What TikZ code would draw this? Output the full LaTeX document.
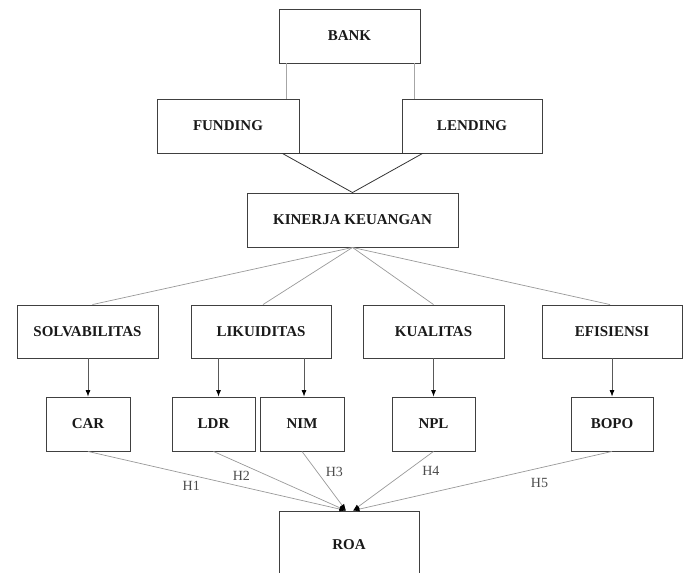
\documentclass[tikz,border=0pt]{standalone}
\usepackage{fontspec}
\setmainfont{Liberation Serif}
\usetikzlibrary{arrows.meta}
\def\varbox{\node[draw=black!75,line width=0.9pt,text=black!90,inner sep=0pt,font=\fontsize{15}{17}\selectfont\bfseries]}

\begin{document}
\begin{tikzpicture}[x=1pt,y=-1pt,
  link/.style={draw=black!40,line width=0.7pt},
  arr/.style={draw=black!65,line width=0.7pt,-{Latex[length=6.5pt,width=5pt,color=black]}},
  hyp/.style={link,-{Latex[length=6.5pt,width=5pt,color=black]}},
  hlabel/.style={text=black!70,font=\fontsize{14}{15}\selectfont}]
\useasboundingbox (0,0) rectangle (689,573);
\varbox[minimum width=141pt,minimum height=54pt] (bank) at (349.5,36) {BANK};
\varbox[minimum width=142pt,minimum height=54pt] (funding) at (228,126) {FUNDING};
\varbox[minimum width=140pt,minimum height=54pt] (lending) at (472,126) {LENDING};
\varbox[minimum width=211pt,minimum height=54pt] (kinerja) at (352.5,220) {KINERJA KEUANGAN};
\varbox[minimum width=141pt,minimum height=53pt] (solv) at (87.5,331.5) {SOLVABILITAS};
\varbox[minimum width=140pt,minimum height=53pt] (likuid) at (261,331.5) {LIKUIDITAS};
\varbox[minimum width=141pt,minimum height=53pt] (kualitas) at (433.5,331.5) {KUALITAS};
\varbox[minimum width=140pt,minimum height=53pt] (efisiensi) at (612,331.5) {EFISIENSI};
\varbox[minimum width=84pt,minimum height=54pt] (car) at (88,424) {CAR};
\varbox[minimum width=83pt,minimum height=54pt] (ldr) at (213.5,424) {LDR};
\varbox[minimum width=84pt,minimum height=54pt] (nim) at (302,424) {NIM};
\varbox[minimum width=83pt,minimum height=54pt] (npl) at (433.5,424) {NPL};
\varbox[minimum width=82pt,minimum height=54pt] (bopo) at (612,424) {BOPO};
\varbox[minimum width=140pt,minimum height=68pt] (roa) at (349,545) {ROA};
% bank to funding / lending
\draw[draw=black!35,line width=0.9pt] ([xshift=8pt]bank.south west) -- ([xshift=8pt]bank.south west |- funding.north);
\draw[draw=black!35,line width=0.9pt] ([xshift=-6pt]bank.south east) -- ([xshift=-6pt]bank.south east |- lending.north);
\draw[draw=black!80,line width=0.8pt] ([xshift=-17pt]funding.south east) -- ([xshift=21pt]lending.south west) -- (kinerja.north) -- cycle;
% kinerja to the four ratios
\draw[link] (kinerja.south) to ([xshift=5pt]solv.north);
\draw[link] (kinerja.south) to ([xshift=2pt]likuid.north);
\draw[link] (kinerja.south) to (kualitas.north);
\draw[link] (kinerja.south) to ([xshift=-2pt]efisiensi.north);
\draw[arr] (car.north |- solv.south) to (car.north);
\draw[arr] ([xshift=5pt]ldr.north |- likuid.south) to ([xshift=5pt]ldr.north);
\draw[arr] ([xshift=2pt]nim.north |- likuid.south) to ([xshift=2pt]nim.north);
\draw[arr] (npl.north |- kualitas.south) to (npl.north);
\draw[arr] (bopo.north |- efisiensi.south) to (bopo.north);
% hypotheses
\draw[hyp] (car.south) to node[hlabel,pos=0.4,yshift=-11pt] {H1} ([xshift=-3pt]roa.north);
\draw[hyp] (ldr.south) to node[hlabel,pos=0.21,yshift=-12pt] {H2} ([xshift=-3pt]roa.north);
\draw[hyp] (nim.south) to node[hlabel,pos=0.35,xshift=17pt] {H3} ([xshift=-3pt]roa.north);
\draw[hyp] (npl.south) to node[hlabel,pos=0.33,xshift=24pt] {H4} ([xshift=4pt]roa.north);
\draw[hyp] (bopo.south) to node[hlabel,pos=0.28,yshift=-15pt] {H5} ([xshift=4pt]roa.north);
\end{tikzpicture}
\end{document}
